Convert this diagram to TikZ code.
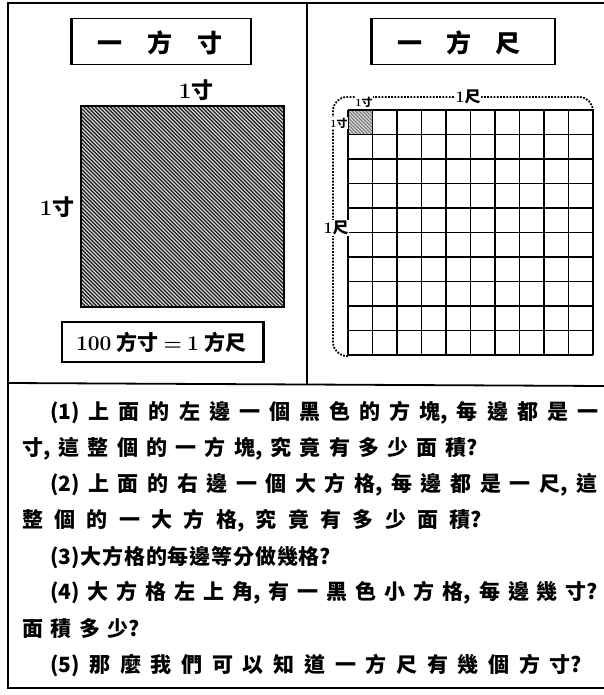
\documentclass[tikz,border=0pt]{standalone}
\usepackage{fontspec}
\newfontfamily\cjk{Noto Sans CJK TC}
\makeatletter
\def\cj@stop{\cjend}
\def\cjs#1{#1\cj@r}
\def\cj@r#1{\def\cj@t{#1}\ifx\cj@t\cj@stop\else\hfill#1\expandafter\cj@r\fi}
\makeatother
\tikzset{
  frame/.style={line width=2.4pt},
  box/.style={draw, line width=1.8pt, minimum height=46pt, inner sep=0pt},
  gridline/.style={line width=1.7pt},
  body/.style={anchor=west, inner sep=0pt, font=\cjk\bfseries\fontsize{21}{21}\selectfont},
  title/.style={inner sep=0pt, font=\cjk\bfseries\fontsize{25}{25}\selectfont},
  dim/.style={inner sep=0.5pt, font=\bfseries\fontsize{22}{22}\selectfont},
  dimsm/.style={inner sep=0.5pt, font=\bfseries\fontsize{16}{16}\selectfont},
  tiny/.style={inner sep=0.3pt, font=\bfseries\fontsize{11}{11}\selectfont, fill=white},
  bracket/.style={line width=1.8pt, dash pattern=on 1.8pt off 1.4pt, rounded corners=14pt}
}
\begin{document}
\begin{tikzpicture}[x=1pt,y=-1pt]
\useasboundingbox (0,0) rectangle (604,695);
\fill[white] (0,0) rectangle (604,695);
% outer frame and dividers
\draw[frame] (604,3) -- (8,3) -- (8,688) -- (604,688);
\draw[line width=1.8pt] (307,3) -- (307,384);
\draw[line width=1.8pt] (8,383) -- (604,386);

% ---------- left panel ----------
\node[box, minimum width=179pt] (tbL) at (161.5,41.5) {};
\draw[line width=3pt] (tbL.north west) -- (tbL.south west);
\node[title] (tL) at (159.5,43) {\makebox[125pt][s]{一\hfill 方\hfill 寸}};

\node[dim] (topL) at (196,90) {1{\cjk 寸}};
\begin{scope}
  \clip (81,106) rectangle (284,307);
  \fill[gray!20] (81,106) rectangle (284,307);
  \foreach \k in {0,...,110} {
    \draw[line width=1.35pt, black!85] (-130+3.8*\k,106) -- (71+3.8*\k,307);
  }
\end{scope}
\node[draw, line width=1.4pt, minimum width=203pt, minimum height=201pt, inner sep=0pt] (sq) at (182.5,206.5) {};
\node[dim] (leftL) at (57,207) {1{\cjk 寸}};

\node[box, minimum width=201pt, minimum height=40pt] (eqbox) at (162.5,342) {};
\draw[line width=3pt] (eqbox.north east) -- (eqbox.south east);
\node[inner sep=0pt, font=\bfseries\fontsize{21}{21}\selectfont] (eq) at (161,342)
  {\makebox[170pt][s]{100\hfil{\cjk 方寸}\hfil=\hfil 1\hfil{\cjk 方尺}}};

% ---------- right panel ----------
\node[box, minimum width=183pt] (tbR) at (463.5,41.5) {};
\draw[line width=3pt] (tbR.north west) -- (tbR.south west);
\node[title] (tR) at (459,43) {\makebox[123pt][s]{一\hfill 方\hfill 尺}};

% shaded small cell
\begin{scope}
  \clip (348,110) rectangle (372.5,134.5);
  \fill[gray!35] (348,110) rectangle (372.5,134.5);
  \foreach \k in {0,...,14} {
    \draw[line width=0.8pt, black!55] (323+3.5*\k,110) -- (348+3.5*\k,135);
  }
\end{scope}
% grid
\foreach \i in {0,...,10} {
  \draw[gridline] (348+24.5*\i,110) -- (348+24.5*\i,355);
  \draw[gridline] (348,110+24.5*\i) -- (593,110+24.5*\i);
}
\coordinate (g1) at (348,356);
\coordinate (g2) at (593,110);
\draw[bracket] (g1) -- (333,356) -- (333,97) -- (593,97) -- (g2);
\node[dimsm, fill=white] (chiT) at (468,97) {1{\cjk 尺}};
\node[dimsm, fill=white] (chiL) at (336,228) {1{\cjk 尺}};
\node[tiny] (cunT) at (364,102) {1{\cjk 寸}};
\node[tiny] (cunL) at (339,123) {1{\cjk 寸}};

% ---------- questions ----------
\node[body] (q1) at (50,413) {\makebox[548pt][s]{\cjs{(1)}上面的左邊一個黑色的方{塊,}每邊都是一\cjend}};
\node[body] (q1b) at (22,449) {\makebox[456pt][s]{\cjs{寸,}這整個的一方{塊,}究竟有多少面{積?}\cjend}};
\node[body] (q2) at (50,485) {\makebox[547pt][s]{\cjs{(2)}上面的右邊一個大方{格,}每邊都是一{尺,}這\cjend}};
\node[body] (q2b) at (22,521) {\makebox[460pt][s]{\cjs 整個的一大方{格,}究竟有多少面{積?}\cjend}};
\node[body] (q3) at (50,557) {\makebox[281pt][s]{\cjs{(3)}大方格的每邊等分做幾{格?}\cjend}};
\node[body] (q4) at (50,593) {\makebox[548pt][s]{\cjs{(4)}大方格左上{角,}有一黑色小方{格,}每邊幾{寸?}\cjend}};
\node[body] (q4b) at (22,629) {\makebox[118pt][s]{\cjs 面積多{少?}\cjend}};
\node[body] (q5) at (50,665) {\makebox[532pt][s]{\cjs{(5)}那麼我們可以知道一方尺有幾個方{寸?}\cjend}};
\end{tikzpicture}
\end{document}
